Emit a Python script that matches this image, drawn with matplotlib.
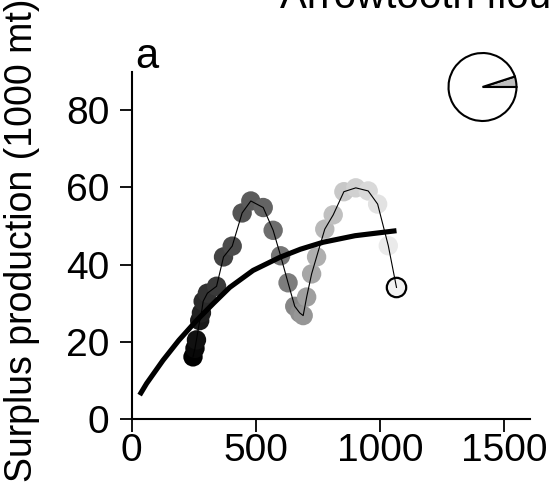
import matplotlib
matplotlib.use("Agg")
import matplotlib.pyplot as plt
import numpy as np

plt.rcParams['font.family'] = ['Liberation Sans', 'DejaVu Sans']

# Observed biomass (1000 mt) and surplus production (1000 mt), in time order
biomass = [247, 255, 261, 274, 281, 288, 305, 342, 370, 405, 445, 480, 530, 570,
           600, 630, 657, 677, 691, 705, 725, 745, 778, 812, 855, 903, 953, 991,
           1034, 1067]
surplus = [16.1, 18.3, 20.5, 25.5, 27.5, 30.5, 32.6, 34.4, 42.0, 44.8, 53.4, 56.5,
           54.8, 48.9, 42.3, 35.3, 29.2, 27.5, 26.8, 31.6, 37.6, 42.0, 49.2, 52.9,
           58.9, 59.9, 59.1, 55.7, 44.9, 34.1]

# Fitted production curve
fit_x = [32, 60, 126, 190, 261, 330, 395, 489, 597, 680, 771, 900, 1067]
fit_y = [6.2, 9.2, 15.2, 20.4, 25.5, 30.0, 34.1, 38.5, 41.9, 44.0, 45.8, 47.5, 48.8]

xticks = [0, 500, 1000, 1500]
yticks = [0, 20, 40, 60, 80]

pie_vals = [5, 95]

W, H = 551, 487
fig = plt.figure(figsize=(W / 100, H / 100), dpi=100)

ax = fig.add_axes([131.7 / W, (H - 419) / H, (530 - 131.7) / W, (419 - 71.7) / H])
ax.set_xlim(0, 1605)
ax.set_ylim(0, 90)

n = len(biomass)
grays = [i / (n - 1) * 0.95 for i in range(n)]
cols = [(g, g, g) for g in grays]
ax.scatter(biomass[:-1], surplus[:-1], s=195, c=cols[:-1], edgecolors='none',
           zorder=2, clip_on=False)
ax.scatter(biomass[-1:], surplus[-1:], s=195, c=[cols[-1]], edgecolors='black',
           linewidths=1.6, zorder=2, clip_on=False)
ax.plot(biomass, surplus, color='black', lw=0.8, zorder=3)
ax.plot(fit_x, fit_y, color='black', lw=3.7, solid_capstyle='butt',
        solid_joinstyle='round', zorder=4)

for s in ['top', 'right']:
    ax.spines[s].set_visible(False)
for s in ['left', 'bottom']:
    ax.spines[s].set_linewidth(1.5)

ax.set_xticks(xticks)
ax.set_yticks(yticks)
ax.tick_params(axis='both', direction='out', length=9, width=1.3, labelsize=28)
ax.tick_params(axis='y', pad=7)
ax.tick_params(axis='x', pad=1)

fig.text(22 / W, 1 - 240 / H, "Surplus production (1000 mt)", rotation=90,
         ha='center', va='center', fontsize=27)
fig.text(135 / W, 1 - 68 / H, "a", ha='left', va='baseline', fontsize=30)
fig.text(280 / W, 1 - 8 / H, "Arrowtooth flounder", ha='left', va='baseline',
         fontsize=29)

r = 35
pax = fig.add_axes([(482.5 - r) / W, (H - 87 - r) / H, 2 * r / W, 2 * r / H])
pax.pie(pie_vals, colors=['#bfbfbf', 'white'], startangle=0, counterclock=True,
        wedgeprops=dict(edgecolor='black', linewidth=1.5))
pax.set_xlim(-1.03, 1.03)
pax.set_ylim(-1.03, 1.03)
pax.set_aspect('equal')

fig.savefig("out.png", dpi=100)
